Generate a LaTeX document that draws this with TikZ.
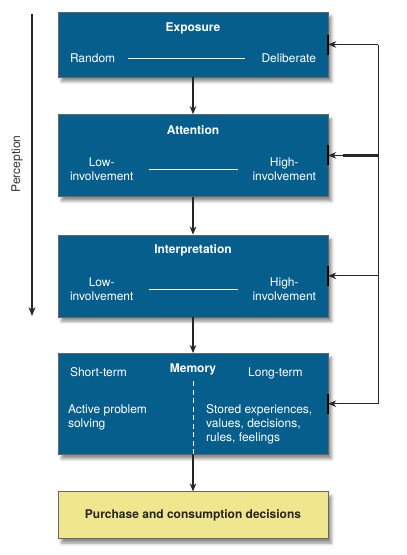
\documentclass[tikz,border=0pt]{standalone}
\usepackage{fontspec}
\setmainfont{TeX Gyre Heros}
\usepackage{tikz}
\usetikzlibrary{positioning,arrows.meta,shadows.blur}
\definecolor{boxblue}{RGB}{6,94,140}
\definecolor{boxyellow}{RGB}{240,230,142}
\tikzstyle{b1} = [rectangle, draw=black!60, fill=boxblue, minimum width=270pt, inner sep=0pt, blur shadow={shadow xshift=3.5pt, shadow yshift=-4.5pt, shadow blur radius=3pt, shadow opacity=45}]
\tikzstyle{b2} = [b1, fill=boxyellow, text=black!85, font=\bfseries]
\tikzstyle{t1} = [text=white, font=\bfseries, inner sep=0pt, anchor=base]
\tikzstyle{t2} = [text=white, inner sep=0pt, align=center]
\tikzstyle{t3} = [text=white, inner sep=0pt, align=left, anchor=north west]
\tikzstyle{flow} = [-{Stealth[length=8pt, width=6.5pt, inset=2.5pt]}, line width=1.3pt, black!85]
\tikzstyle{fb} = [-{Stealth[length=8pt, width=6.5pt, inset=2.5pt]}, line width=1pt, black!85]
\tikzstyle{tick} = [line width=2pt, black]

\begin{document}
\fontsize{12pt}{14pt}\selectfont
\begin{tikzpicture}[x=1pt, y=1pt]
\useasboundingbox (0,0) rectangle (407,-555);
\node(Ex)[b1, minimum height=65pt] at (193,-44.5) {};
\node(At)[b1, minimum height=82pt, below=37pt of Ex] {};
\node(In)[b1, minimum height=82pt, below=38pt of At] {};
\node(Me)[b1, minimum height=101pt, below=36pt of In] {};
\node(Pu)[b2, minimum height=47pt, below=37pt of Me] {Purchase and consumption decisions};

\node(ExT)[t1] at ([yshift=-19.5pt]Ex.north) {Exposure};
\node(ExL)[t2, anchor=west] at ([xshift=12pt, yshift=-13.5pt]Ex.west) {Random};
\node(ExR)[t2, anchor=east] at ([xshift=-12pt, yshift=-13.5pt]Ex.east) {Deliberate};
\draw[white, line width=0.8pt] ([xshift=13pt]ExL.east) -- ([xshift=-16pt]ExR.west);

\node(AtT)[t1] at ([yshift=-20pt]At.north) {Attention};
\node(AtL)[t2, anchor=west] at ([xshift=12pt, yshift=-14pt]At.west) {Low-\\involvement};
\node(AtR)[t2, anchor=east] at ([xshift=-12pt, yshift=-14pt]At.east) {High-\\involvement};
\draw[white, line width=1.8pt] ([xshift=15pt]AtL.east) -- ([xshift=-14pt]AtR.west);

\node(InT)[t1] at ([yshift=-18.5pt]In.north) {Interpretation};
\node(InL)[t2, anchor=west] at ([xshift=12pt, yshift=-13.5pt]In.west) {Low-\\involvement};
\node(InR)[t2, anchor=east] at ([xshift=-12pt, yshift=-13.5pt]In.east) {High-\\involvement};
\draw[white, line width=1pt] ([xshift=15pt]InL.east) -- ([xshift=-14pt]InR.west);

\node(MeT)[t1] at ([yshift=-19pt]Me.north) {Memory};
\node(MeL)[t1, anchor=base west] at ([xshift=12pt, yshift=-23pt]Me.north west) {\mdseries Short-term};
\node(MeR)[t1, anchor=base west] at ([xshift=55pt, yshift=-23pt]Me.north) {\mdseries Long-term};
\node(MeA)[t3] at ([xshift=10pt, yshift=-51.5pt]Me.north west) {Active problem\\solving};
\node(MeB)[t3] at ([xshift=13pt, yshift=-51.5pt]Me.north) {Stored experiences,\\values, decisions,\\rules, feelings};
\draw[white, line width=1pt, dash pattern=on 5pt off 3.5pt] ([yshift=-28pt]Me.north) -- (Me.south);

\draw[flow] (Ex.south) -- (At.north);
\draw[flow] (At.south) -- (In.north);
\draw[flow] (In.south) -- (Me.north);
\draw[flow] (Me.south) -- (Pu.north);

\coordinate(PcTop) at (32,-14);
\coordinate(PcBot) at (32,-316);
\draw[-{Stealth[length=9pt, width=7pt, inset=3pt]}, line width=2.2pt, black!85] (PcTop) -- (PcBot);
\node(Pc)[rotate=90, inner sep=0pt, text=black!80] at (17,-164) {Perception};

\coordinate(Fb) at (378,0);
\draw[line width=1pt, black!85] (Ex.east -| Fb) -- (Me.east -| Fb);
\draw[fb] (Ex.east -| Fb) -- (Ex.east);
\draw[fb] (At.east -| Fb) -- (At.east);
\draw[line width=2.4pt, black!85] (At.east -| Fb) -- ([xshift=15pt]At.east);
\draw[fb] (In.east -| Fb) -- (In.east);
\draw[fb] (Me.east -| Fb) -- (Me.east);
\draw[tick] ([yshift=10pt]Ex.east) -- ([yshift=-10pt]Ex.east);
\draw[tick] ([yshift=10pt]At.east) -- ([yshift=-10pt]At.east);
\draw[tick] ([yshift=10pt]In.east) -- ([yshift=-10pt]In.east);
\draw[tick] ([yshift=10pt]Me.east) -- ([yshift=-10pt]Me.east);
\end{tikzpicture}
\end{document}
